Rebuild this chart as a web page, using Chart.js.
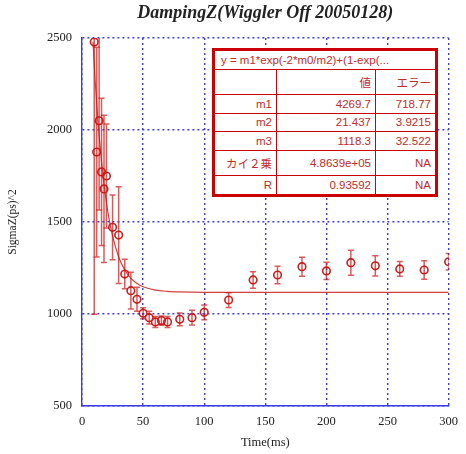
<!DOCTYPE html>
<html>
<head>
<meta charset="utf-8">
<script src="https://cdn.jsdelivr.net/npm/chart.js@4/dist/chart.umd.min.js"></script>
<style>
  body { margin: 0; background: #fff; }
  #wrap { position: relative; width: 466px; height: 454px; }
  #fitTable {
    position: absolute; left: 212px; top: 48px; width: 226px; height: 149px;
    border-collapse: collapse; border: 3px solid #cc0000; background: #fff;
    font-family: "Liberation Sans", "Noto Sans CJK JP", sans-serif; font-size: 11.5px; color: #c42a2a;
  }
  #fitTable td { border: 1.5px solid #cc0000; padding: 0 4px; text-align: right; white-space: nowrap; }
  #fitTable td.eq { text-align: left; padding-left: 6px; }
</style>
</head>
<body>
<div id="wrap">
  <canvas id="chart" width="466" height="454"></canvas>
  <table id="fitTable">
    <tr><td class="eq" colspan="3">y = m1*exp(-2*m0/m2)+(1-exp(...</td></tr>
    <tr><td style="width:53px"></td><td style="width:90px">値</td><td>エラー</td></tr>
    <tr><td>m1</td><td>4269.7</td><td>718.77</td></tr>
    <tr><td>m2</td><td>21.437</td><td>3.9215</td></tr>
    <tr><td>m3</td><td>1118.3</td><td>32.522</td></tr>
    <tr><td>カイ２乗</td><td>4.8639e+05</td><td>NA</td></tr>
    <tr><td>R</td><td>0.93592</td><td>NA</td></tr>
  </table>
</div>
<script>
// measured points
const times = [10, 12, 14, 16, 18, 20, 25, 30, 35, 40, 45, 50, 55, 60, 65, 70, 80, 90, 100, 120, 140, 160, 180, 200, 220, 240, 260, 280, 300];
const sigmaZ = [2478, 1880, 2050, 1772, 1680, 1750, 1471, 1429, 1217, 1127, 1080, 1004, 980, 957, 964, 957, 971, 980, 1009, 1076, 1185, 1212, 1257, 1234, 1279, 1262, 1245, 1239, 1284];
const sigmaErr = [1480, 570, 485, 400, 400, 283, 176, 263, 80, 100, 65, 30, 35, 30, 25, 30, 35, 40, 40, 40, 45, 47, 52, 47, 68, 55, 40, 50, 45];

// fit curve
const fitTimes = [9, 10, 11, 12, 13, 14, 16, 18, 20, 22, 25, 30, 35, 40, 45, 50, 60, 70, 80, 100, 300];
const fitValues = [2480, 2357, 2245, 2147, 2055, 1972, 1827, 1706, 1606, 1522, 1424, 1310, 1239, 1194, 1166, 1148, 1130, 1123, 1120, 1118, 1118];

const red = '#cc1f1f';
const gridBlue = '#3c3ce6';

const errorBars = {
    id: 'errorBars',
    afterDatasetsDraw(chart) {
        const { ctx, chartArea, scales } = chart;
        ctx.save();
        ctx.beginPath();
        ctx.rect(chartArea.left, chartArea.top, chartArea.right - chartArea.left, chartArea.bottom - chartArea.top);
        ctx.clip();
        ctx.strokeStyle = 'rgba(204, 20, 20, 0.7)';
        ctx.lineWidth = 1.5;
        times.forEach((t, i) => {
            const x = scales.x.getPixelForValue(t);
            const yTop = scales.y.getPixelForValue(sigmaZ[i] + sigmaErr[i]);
            const yBot = scales.y.getPixelForValue(sigmaZ[i] - sigmaErr[i]);
            ctx.beginPath();
            ctx.moveTo(x, yTop); ctx.lineTo(x, yBot);
            ctx.moveTo(x - 3, yTop); ctx.lineTo(x + 3, yTop);
            ctx.moveTo(x - 3, yBot); ctx.lineTo(x + 3, yBot);
            ctx.stroke();
        });
        ctx.restore();
    }
};

const serif = 'Liberation Serif';
const plain = v => String(v);

new Chart(document.getElementById('chart'), {
    type: 'scatter',
    data: {
        datasets: [
            {
                type: 'line',
                label: 'fit',
                data: fitTimes.map((t, i) => ({ x: t, y: fitValues[i] })),
                borderColor: 'rgba(204, 30, 30, 0.85)',
                borderWidth: 1.2,
                pointRadius: 0,
                cubicInterpolationMode: 'monotone',
                fill: false
            },
            {
                label: 'SigmaZ',
                data: times.map((t, i) => ({ x: t, y: sigmaZ[i] })),
                borderColor: red,
                backgroundColor: 'rgba(0,0,0,0)',
                borderWidth: 1.6,
                pointRadius: 3.8,
                pointStyle: 'circle'
            }
        ]
    },
    options: {
        responsive: false,
        animation: false,
        devicePixelRatio: 1,
        layout: { padding: { left: 0, right: 14, top: 0, bottom: 0 } },
        plugins: {
            legend: { display: false },
            tooltip: { enabled: false },
            title: {
                display: true,
                fullSize: false,
                text: 'DampingZ(Wiggler Off 20050128)',
                color: '#222',
                font: { family: serif, size: 18, weight: 'bold', style: 'italic' },
                padding: { top: 3, bottom: 13.4 }
            }
        },
        scales: {
            x: {
                type: 'linear',
                min: 0, max: 300,
                ticks: { stepSize: 50, color: '#222', padding: 8, callback: plain, font: { family: serif, size: 12.5 } },
                grid: { color: gridBlue, lineWidth: 1.4, drawTicks: false },
                border: { color: gridBlue, width: 1.4, dash: [2, 3] },
                title: { display: true, text: 'Time(ms)', color: '#222', font: { family: serif, size: 12.5 }, padding: { top: 4, bottom: 4 } },
                afterFit(scale) { scale.height = 48; }
            },
            y: {
                min: 500, max: 2500,
                ticks: { stepSize: 500, color: '#222', padding: 10, callback: plain, font: { family: serif, size: 12.5 } },
                grid: { color: gridBlue, lineWidth: 1.4, drawTicks: false },
                border: { color: gridBlue, width: 1.4, dash: [2, 3] },
                title: { display: true, text: 'SigmaZ(ps)^2', color: '#222', font: { family: serif, size: 11.5 }, padding: { top: 6, bottom: 0 } },
                afterFit(scale) { scale.width = 82; }
            }
        }
    },
    plugins: [errorBars]
});
</script>
</body>
</html>
